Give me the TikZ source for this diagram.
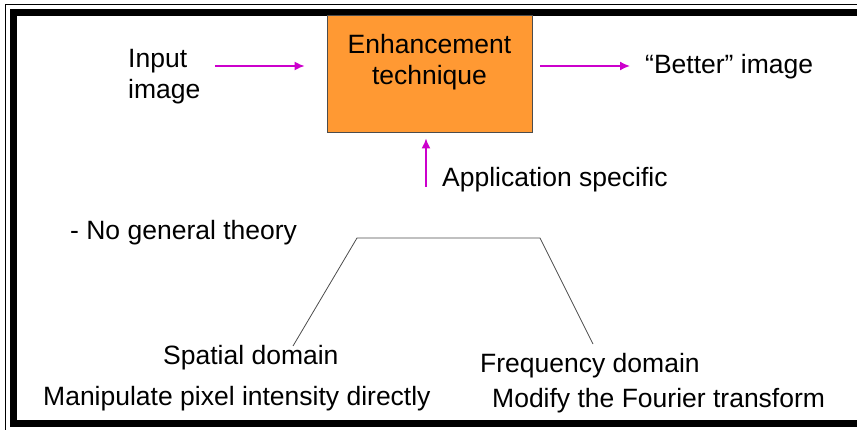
\documentclass[tikz,border=0pt]{standalone}
\usepackage{fontspec}
\setmainfont{Liberation Sans}
\usetikzlibrary{arrows.meta}
\definecolor{fleche}{RGB}{204,0,204}
\definecolor{orangebox}{RGB}{255,153,51}
\tikzset{fleche/.style = {draw=fleche, line width=1.6pt, -{Latex[length=10pt,width=9pt]}},
         trait/.style = {draw=black!70, line width=0.8pt},
         boite/.style = {rectangle, draw=black!70, line width=0.8pt, fill=orangebox,
                         minimum width=205pt, minimum height=117pt}
        }

\begin{document}
\begin{tikzpicture}[x=1pt,y=-1pt,font=\fontsize{26.5}{31}\selectfont]
  \tikzstyle{every node}=[inner sep=0pt]
  \useasboundingbox (0,0) rectangle (857,430);
  \draw[line width=1pt] (857,5) -- (5,5) -- (5,430);
  \draw[line width=7pt] (857,12.5) -- (13.5,12.5) -- (13.5,423) -- (857,423);

  \node[boite] (tech) at (429.5,73.5) {};
  \node[anchor=base, align=center] (techtxt) at (429.5,85) {Enhancement\\technique};
  \node[anchor=base west, align=left] (in) at (128,99) {Input\\image};
  \node[anchor=base west] (out) at (645,74) {“Better” image};
  \node[anchor=base west] (app) at (442,187) {Application specific};
  \node[anchor=base west] (theo) at (70,240) {- No general theory};
  \node[anchor=base west] (spat) at (163,365) {Spatial domain};
  \node[anchor=base west] (freq) at (480,373) {Frequency domain};
  \node[anchor=base west] (spatdesc) at (43,406) {Manipulate pixel intensity directly};
  \node[anchor=base west] (freqdesc) at (492,407) {Modify the Fourier transform};

  \coordinate (a1) at (215,66);
  \coordinate (a2) at (630,66);
  \coordinate (a3) at (426,187);
  \draw[fleche, shorten >=22pt] (a1) -- (tech.west |- a1);
  \draw[fleche, shorten <=8pt] (tech.east |- a2) -- (a2);
  \draw[fleche, shorten >=6pt] (a3) -- (a3 |- tech.south);

  \coordinate (tl) at (357,238);
  \coordinate (tr) at (540,238);
  \coordinate (sl) at (293,346);
  \coordinate (fr) at (593,344);
  \draw[trait] (sl) -- (tl) -- (tr) -- (fr);
\end{tikzpicture}
\end{document}
